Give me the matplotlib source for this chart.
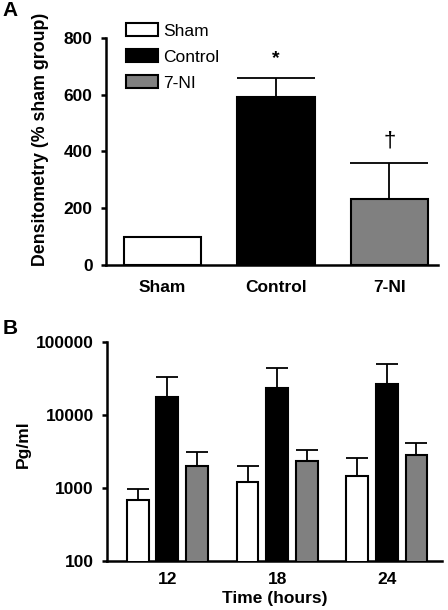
import matplotlib
matplotlib.use("Agg")
import matplotlib.pyplot as plt
import numpy as np

plt.rcParams['font.family'] = ['Liberation Sans', 'DejaVu Sans']

# Panel A: densitometry
groups_a = ['Sham', 'Control', '7-NI']
dens_mean = [100, 592, 232]
dens_err = [0, 66, 128]
colors = ['white', 'black', 'gray']
marks = ['', '*', '\u2020']
mark_y = [0, 729, 437]

# Panel B: Pg/ml over time
times = ['12', '18', '24']
sham_b = [670, 1200, 1430]
sham_b_err = [280, 780, 1100]
ctrl_b = [17500, 23200, 26600]
ctrl_b_err = [15300, 20400, 23400]
ni_b = [2000, 2320, 2800]
ni_b_err = [1110, 960, 1250]

fs = 12.5
fig = plt.figure(figsize=(4.48, 6.1), dpi=100)

def style(ax, xpad):
    for s in ['top', 'right']:
        ax.spines[s].set_visible(False)
    for s in ['left', 'bottom']:
        ax.spines[s].set_linewidth(1.8)
    ax.tick_params(axis='y', direction='out', length=3.6, width=1.8, labelsize=fs, pad=6)
    ax.tick_params(axis='x', length=0, labelsize=fs, pad=xpad)
    for lab in ax.get_xticklabels() + ax.get_yticklabels():
        lab.set_fontweight('bold')

# ---- A ----
axa = fig.add_axes([0.2366, 0.5656, 0.978 - 0.2366, 0.9377 - 0.5656])
x = np.arange(len(groups_a))
bars = axa.bar(x, dens_mean, width=0.68, color=colors, edgecolor='black', linewidth=1.5, zorder=3)
axa.errorbar(x[1:], dens_mean[1:], yerr=[[0, 0], dens_err[1:]], fmt='none',
             ecolor='black', elinewidth=1.3, capsize=28, capthick=1.3, zorder=2)
for i in range(len(groups_a)):
    if marks[i]:
        axa.text(x[i], mark_y[i], marks[i], ha='center', va='center',
                 fontsize=14 if marks[i] == '*' else 16,
                 fontweight='bold' if marks[i] == '*' else 'normal')
axa.set_xlim(-0.5, 2.43)
axa.set_ylim(0, 800)
axa.set_yticks([0, 200, 400, 600, 800])
axa.set_xticks(x)
axa.set_xticklabels(groups_a)
axa.set_ylabel('Densitometry (% sham group)', fontsize=12.75, fontweight='bold')
axa.yaxis.set_label_coords(-0.172, 0.555)
style(axa, 11)
leg = axa.legend(bars, groups_a, loc='upper left', bbox_to_anchor=(0.281, 0.962),
                 bbox_transform=fig.transFigure, frameon=False, fontsize=fs,
                 handlelength=1.85, handleheight=0.75, handletextpad=0.3,
                 labelspacing=0.61, borderpad=0, borderaxespad=0)
fig.text(0.005, 0.983, 'A', fontsize=15, fontweight='bold', va='center')

# ---- B ----
axb = fig.add_axes([0.239, 0.0808, 0.986 - 0.239, 0.4398 - 0.0808])
xb = np.arange(len(times))
off = 0.27
w = 0.2
for dx, vals, errs, c in [(-off, sham_b, sham_b_err, 'white'),
                          (0, ctrl_b, ctrl_b_err, 'black'),
                          (off, ni_b, ni_b_err, 'gray')]:
    axb.bar(xb + dx, vals, width=w, color=c, edgecolor='black', linewidth=1.5, zorder=3)
    axb.errorbar(xb + dx, vals, yerr=[np.zeros(len(vals)), errs], fmt='none',
                 ecolor='black', elinewidth=1.3, capsize=8, capthick=1.3, zorder=2)
axb.set_yscale('log')
axb.set_ylim(100, 100000)
axb.set_yticks([100, 1000, 10000, 100000])
axb.set_yticklabels(['100', '1000', '10000', '100000'])
axb.minorticks_off()
axb.set_xlim(-0.55, 2.5)
axb.set_xticks(xb)
axb.set_xticklabels(times)
axb.set_ylabel('Pg/ml', fontsize=fs, fontweight='bold')
axb.yaxis.set_label_coords(-0.227, 0.53)
axb.set_xlabel('Time (hours)', fontsize=fs, fontweight='bold', labelpad=3)
style(axb, 8)
fig.text(0.005, 0.462, 'B', fontsize=15, fontweight='bold', va='center')

fig.savefig('out.png', dpi=100)
